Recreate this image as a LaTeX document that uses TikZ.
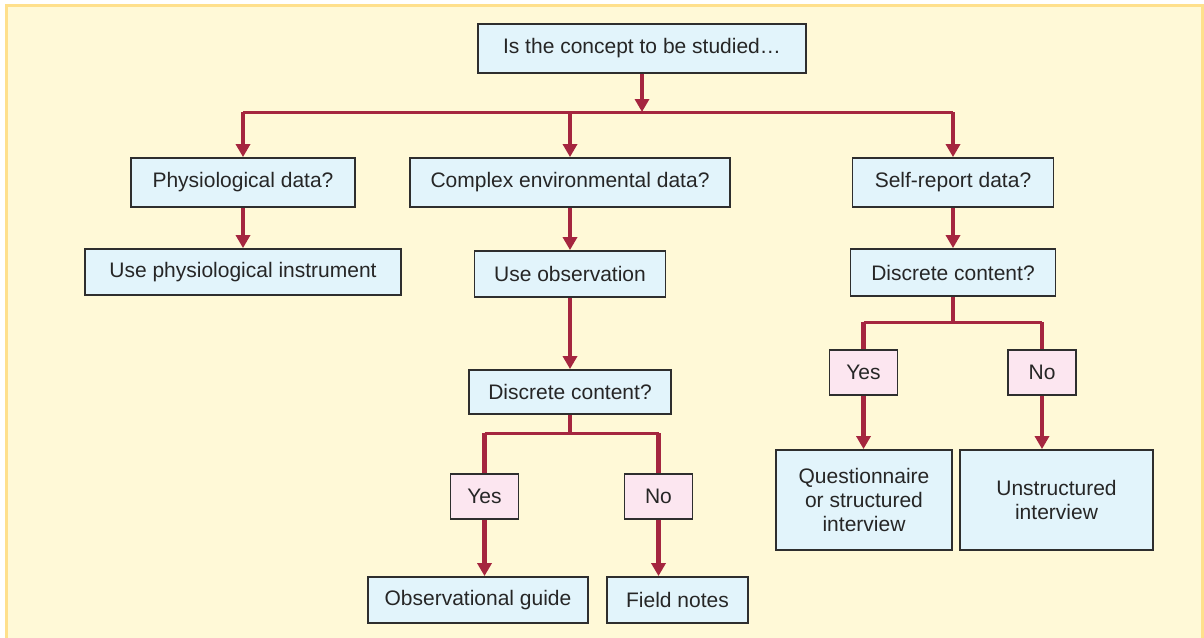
\documentclass[tikz,border=0pt]{standalone}
\usepackage{fontspec}
\setmainfont{Liberation Sans}
\usetikzlibrary{arrows.meta}
\definecolor{pagecream}{HTML}{FFF9D7}
\definecolor{pageedge}{HTML}{FFE08C}
\definecolor{boxblue}{HTML}{E2F4FB}
\definecolor{boxpink}{HTML}{FCE6F0}
\definecolor{flowred}{HTML}{A5263F}
\definecolor{edgegray}{HTML}{2E2E2E}
\tikzset{
  qbox/.style={draw=edgegray, line width=1.8pt, fill=boxblue, rectangle,
    inner sep=0pt, font=\fontsize{21}{24}\selectfont, text=black!85, align=center},
  ansbox/.style={draw=edgegray, line width=1.8pt, fill=boxpink, rectangle,
    inner sep=0pt, minimum width=68pt, minimum height=45pt,
    font=\fontsize{21}{24}\selectfont, text=black!85},
  arr/.style={draw=flowred, line width=4.5pt, -{Triangle[width=14pt,length=13pt]}},
  stem/.style={draw=flowred, line width=4.5pt},
  bus/.style={draw=flowred, line width=3pt}
}
\begin{document}
\begin{tikzpicture}[x=1pt,y=-1pt]
\useasboundingbox (0,0) rectangle (1204,637);
% framed panel
\fill[white] (0,0) rectangle (1204,637);
\fill[pageedge] (5,4) rectangle (1204,640);
\fill[pagecream] (8,7) rectangle (1201,640);

% question and method boxes
\node[qbox, minimum width=328pt, minimum height=49pt] (top) at (642,48.5) {Is the concept to be studied\dots};
\node[qbox, minimum width=224pt, minimum height=49pt] (phys) at (243,182.5) {Physiological data?};
\node[qbox, minimum width=320pt, minimum height=49pt] (env) at (570,182.5) {Complex environmental data?};
\node[qbox, minimum width=201pt, minimum height=49pt] (self) at (953,182.5) {Self-report data?};
\node[qbox, minimum width=316pt, minimum height=46pt] (instr) at (243,272) {Use physiological instrument};
\node[qbox, minimum width=191pt, minimum height=46pt] (obs) at (570,274) {Use observation};
\node[qbox, minimum width=202pt, minimum height=44pt] (dcm) at (570,392) {Discrete content?};
\node[qbox, minimum width=205pt, minimum height=47pt] (dcr) at (953,272.5) {Discrete content?};

% answer boxes
\node[ansbox] (yesm) at (484.5,496.5) {Yes};
\node[ansbox] (nom) at (658.5,496.5) {No};
\node[ansbox] (yesr) at (863.5,372.5) {Yes};
\node[ansbox] (nor) at (1042,372.5) {No};

% outcome boxes
\node[qbox, minimum width=220pt, minimum height=46pt] (guide) at (478,600) {Observational guide};
\node[qbox, minimum width=141pt, minimum height=46pt] (notes) at (677.5,600) {Field notes};
\node[qbox, minimum width=176pt, minimum height=100pt] (quest) at (864,500) {Questionnaire\\or structured\\interview};
\node[qbox, minimum width=193pt, minimum height=100pt] (unstr) at (1056.5,500) {Unstructured\\interview};

% top split
\coordinate (j0) at (642,112);
\coordinate (jl) at (243,112);
\coordinate (jr) at (953,112);
\draw[arr] (top.south) -- (j0);
\draw[bus] (jl) -- (jr);
\draw[arr] (jl) -- (phys.north);
\draw[arr] (env.north |- j0) -- (env.north);
\draw[arr] (jr) -- (self.north);

% left and middle columns
\draw[arr] (phys.south) -- (instr.north);
\draw[arr] (env.south) -- (obs.north);
\draw[arr] (obs.south) -- (dcm.north);

% middle yes/no split
\coordinate (jm) at (570,433);
\draw[stem] (dcm.south) -- (jm);
\draw[bus] (yesm.north |- jm) -- (nom.north |- jm);
\draw[stem] (yesm.north |- jm) -- (yesm.north);
\draw[stem] (nom.north |- jm) -- (nom.north);
\draw[arr] (yesm.south) -- (yesm.south |- guide.north);
\draw[arr] (nom.south) -- (nom.south |- notes.north);

% right column
\draw[arr] (self.south) -- (dcr.north);
\coordinate (jrr) at (953,322);
\draw[stem] (dcr.south) -- (jrr);
\draw[bus] (yesr.north |- jrr) -- (nor.north |- jrr);
\draw[stem] (yesr.north |- jrr) -- (yesr.north);
\draw[stem] (nor.north |- jrr) -- (nor.north);
\draw[arr] (yesr.south) -- (yesr.south |- quest.north);
\draw[arr] (nor.south) -- (nor.south |- unstr.north);
\end{tikzpicture}
\end{document}
